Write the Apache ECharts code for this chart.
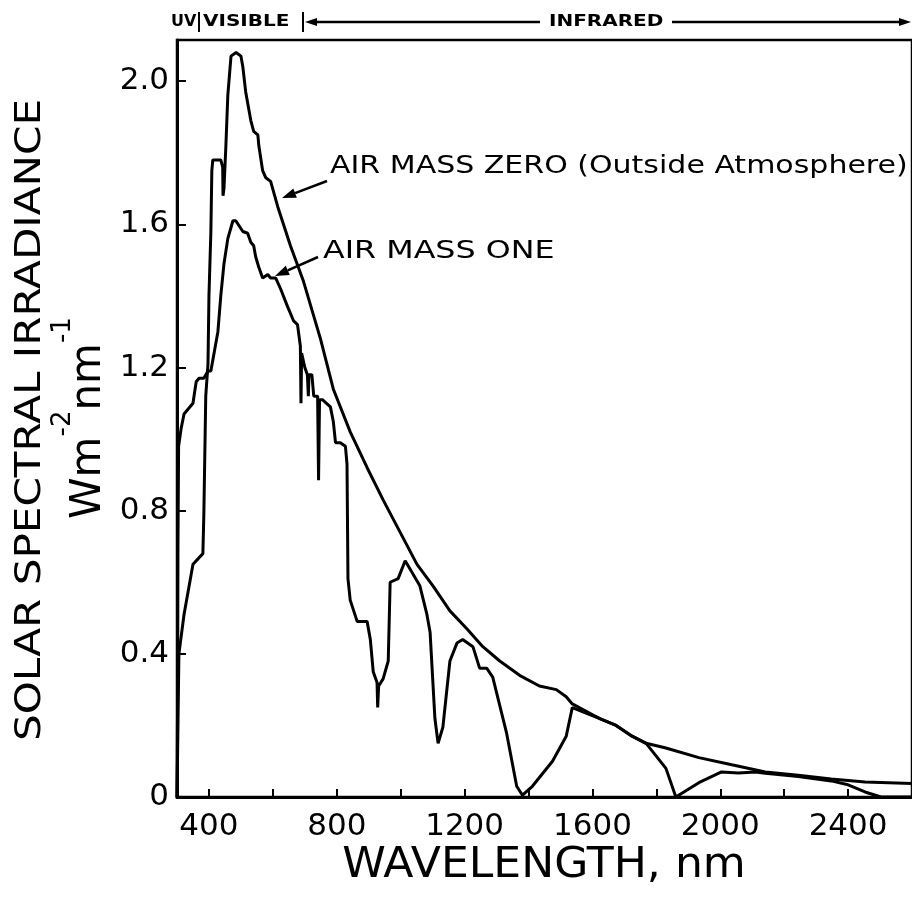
<!DOCTYPE html>
<html><head><meta charset="utf-8">
<script src="https://cdn.jsdelivr.net/npm/echarts@6/dist/echarts.min.js"></script>
<style>html,body{margin:0;padding:0;background:#fff}#c{width:912px;height:897px}</style>
</head><body><div id="c"></div>
<script>
// Air mass zero (outside atmosphere)
const am0Wavelength = [300,303,306,322,350,381,384,390,397,400,406,409,412,428,437,443,444,447,453,459,469,485,500,506,515,531,540,553,556,568,578,593,615,655,696,749,789,842,895,945,998,1051,1101,1154,1207,1257,1310,1372,1434,1487,1518,1537,1621,1674,1724,1768,1830,1933,2036,2141,2244,2347,2453,2600];
const am0Irradiance = [0,0.2,0.40,0.51,0.65,0.68,0.79,1.12,1.21,1.40,1.58,1.75,1.78,1.78,1.78,1.76,1.68,1.70,1.82,1.96,2.07,2.08,2.07,2.04,1.97,1.89,1.86,1.85,1.82,1.75,1.73,1.72,1.65,1.54,1.44,1.28,1.14,1.02,0.92,0.83,0.74,0.65,0.59,0.52,0.47,0.42,0.38,0.34,0.31,0.30,0.28,0.26,0.22,0.20,0.17,0.15,0.137,0.11,0.09,0.07,0.061,0.05,0.042,0.038];
// Air mass one
const am1Wavelength = [300,302,303,305,313,322,350,360,369,384,397,406,428,437,447,459,475,484,490,506,521,531,540,546,556,568,584,593,609,624,646,665,677,686,688,690,695,700,708,711,713,716,722,728,740,743,746,755,780,789,796,811,827,832,835,842,864,895,905,914,926,928,931,945,961,967,992,1014,1060,1082,1092,1107,1117,1132,1154,1176,1194,1226,1247,1269,1288,1331,1363,1381,1412,1475,1518,1537,1621,1674,1724,1768,1830,1861,1933,2004,2057,2110,2141,2244,2347,2400,2453,2503,2600];
const am1Irradiance = [0,0.3,0.7,0.98,1.03,1.07,1.10,1.16,1.17,1.17,1.19,1.19,1.30,1.40,1.49,1.56,1.61,1.61,1.61,1.58,1.575,1.55,1.54,1.51,1.48,1.45,1.46,1.45,1.45,1.42,1.37,1.33,1.32,1.26,1.10,1.24,1.24,1.20,1.18,1.12,1.18,1.18,1.18,1.12,1.12,0.885,1.11,1.11,1.09,1.05,0.99,0.99,0.98,0.93,0.61,0.55,0.49,0.49,0.44,0.35,0.32,0.25,0.31,0.33,0.38,0.60,0.61,0.66,0.59,0.51,0.46,0.22,0.15,0.195,0.38,0.43,0.44,0.42,0.36,0.36,0.335,0.18,0.03,0.005,0.03,0.10,0.17,0.25,0.22,0.20,0.17,0.15,0.08,0.0,0.04,0.07,0.067,0.07,0.066,0.057,0.045,0.034,0.014,0.0,0.0];

const xTickValues = [400,600,800,1000,1200,1400,1600,1800,2000,2200,2400];
const xLabelValues = [400,800,1200,1600,2000,2400];
const yTickValues = [0,0.4,0.8,1.2,1.6,2.0];

const FONT = '"DejaVu Sans", sans-serif';
const am0Data = am0Wavelength.map((w,i)=>[w, am0Irradiance[i]]);
const am1Data = am1Wavelength.map((w,i)=>[w, am1Irradiance[i]]);

function arrow(x1,y1,x2,y2,L,W,lw){
  L=L||13; W=W||5; lw=lw||2.5;
  const a=Math.atan2(y2-y1,x2-x1);
  const bx=x2-L*Math.cos(a), by=y2-L*Math.sin(a);
  const px=-Math.sin(a)*W, py=Math.cos(a)*W;
  return [
    {type:'line', shape:{x1:x1,y1:y1,x2:bx,y2:by}, style:{stroke:'#000', lineWidth:lw}},
    {type:'polygon', shape:{points:[[x2,y2],[bx+px,by+py],[bx-px,by-py]]}, style:{fill:'#000'}}
  ];
}
function txt(text,x,y,size,opts){
  opts=opts||{};
  return {type:'text', x:x, y:y, rotation:opts.rotation||0, scaleX:opts.scaleX||1,
    style:{text:text, fontSize:size, fontFamily:FONT, fill:'#000', fontWeight:opts.weight||'normal',
      align:opts.align||'left', verticalAlign:opts.va||'middle', rich:opts.rich}};
}

const chart = echarts.init(document.getElementById('c'), null, {renderer:'canvas'});
const graphics = [].concat(
  [
    txt('SOLAR SPECTRAL IRRADIANCE', 31, 420, 36, {rotation:Math.PI/2, align:'center', scaleX:1.17}),
    txt('{b|Wm}{s|-2}{b|nm}{s|-1}', 80, 418, 44, {rotation:Math.PI/2, align:'center',
      rich:{b:{fontSize:42, fontFamily:FONT, fill:'#000', lineHeight:60, verticalAlign:'bottom'},
            s:{fontSize:26, fontFamily:FONT, fill:'#000', verticalAlign:'top'}}}),
    txt('WAVELENGTH, nm', 544, 866, 42, {align:'center', scaleX:1.05}),
    txt('AIR MASS ZERO (Outside Atmosphere)', 330, 166, 25, {scaleX:1.2}),
    txt('AIR MASS ONE', 323, 251, 25, {scaleX:1.27}),
    txt('UV', 171, 22, 16, {scaleX:1.0, weight:'bold'}),
    txt('VISIBLE', 203, 22, 16, {scaleX:1.25, weight:'bold'}),
    txt('INFRARED', 549, 22, 16, {scaleX:1.25, weight:'bold'}),
    {type:'line', shape:{x1:199,y1:12,x2:199,y2:32}, style:{stroke:'#000', lineWidth:2}},
    {type:'line', shape:{x1:303,y1:12,x2:303,y2:32}, style:{stroke:'#000', lineWidth:2}}
  ],
  arrow(540,22,305,22,12,4,2.5),
  arrow(672,22,911,22,12,4,2.5),
  arrow(327,181,282,198,14,5,2.5),
  arrow(318,257,275,276,14,5,2.5)
);

chart.setOption({
  animation:false,
  backgroundColor:'#fff',
  textStyle:{fontFamily:FONT},
  grid:{left:177, top:40, width:738, height:757, show:true, borderColor:'#000', borderWidth:2.5, backgroundColor:'transparent'},
  xAxis:{type:'value', min:300, max:2600,
    axisLine:{show:true, onZero:false, lineStyle:{color:'#000', width:3}},
    axisTick:{show:true, inside:true, length:8, customValues:xTickValues, lineStyle:{color:'#000', width:2}},
    axisLabel:{show:true, customValues:xLabelValues, fontSize:31, color:'#000', fontFamily:FONT, margin:14,
      formatter:function(v){ return String(v); }},
    splitLine:{show:false}},
  yAxis:{type:'value', min:0, max:2.115,
    axisLine:{show:true, lineStyle:{color:'#000', width:3}},
    axisTick:{show:true, inside:true, length:9, customValues:yTickValues, lineStyle:{color:'#000', width:2}},
    axisLabel:{show:true, customValues:yTickValues, fontSize:31, color:'#000', fontFamily:FONT, margin:8,
      formatter:function(v){ return v===0 ? '0' : v.toFixed(1); }},
    splitLine:{show:false}},
  series:[
    {name:'AIR MASS ZERO', type:'line', data:am0Data, showSymbol:false, symbol:'none',
      lineStyle:{color:'#000', width:3}, z:3},
    {name:'AIR MASS ONE', type:'line', data:am1Data, showSymbol:false, symbol:'none',
      lineStyle:{color:'#000', width:3}, z:3}
  ],
  graphic:graphics
});
</script>
</body></html>
